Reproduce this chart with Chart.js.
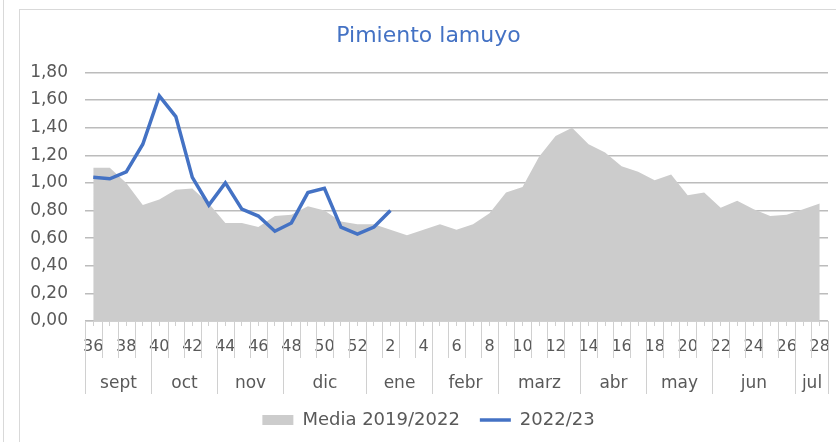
<!DOCTYPE html>
<html lang="es">
<head>
<meta charset="UTF-8">
<title>Pimiento lamuyo</title>
<script src="https://cdn.jsdelivr.net/npm/chart.js@4"></script>
<style>
  html, body { margin: 0; padding: 0; background: #fff; }
  #wrap { position: relative; width: 836px; height: 442px; overflow: hidden; }
  .edge { position: absolute; left: 3px; top: 0; height: 442px; border-left: 1px solid #d9d9d9; }
  .frame { position: absolute; left: 19px; top: 9px; width: 900px; height: 500px;
           border-left: 1px solid #d9d9d9; border-top: 1px solid #d9d9d9; }
  #chart { position: absolute; left: 0; top: 0; }
</style>
</head>
<body>
<div id="wrap">
  <div class="edge"></div>
  <div class="frame"></div>
  <canvas id="chart" width="836" height="442"></canvas>
</div>
<script>
// weeks of the campaign (sept -> jul)
const weeks = ['36','37','38','39','40','41','42','43','44','45','46','47','48','49','50','51','52',
  '1','2','3','4','5','6','7','8','9','10','11','12','13','14','15','16','17','18','19','20',
  '21','22','23','24','25','26','27','28'];
const months = ['sept','oct','nov','dic','ene','febr','marz','abr','may','jun','jul'];
const monthSpan = [4, 4, 4, 5, 4, 4, 5, 4, 4, 5, 2];

const media = [1.11,1.11,1.00,0.84,0.88,0.95,0.96,0.85,0.71,0.71,0.68,0.76,0.77,0.83,0.80,0.72,0.70,
  0.70,0.66,0.62,0.66,0.70,0.66,0.70,0.78,0.93,0.97,1.19,1.34,1.40,1.28,1.22,1.12,1.08,1.02,1.06,
  0.91,0.93,0.82,0.87,0.81,0.76,0.77,0.81,0.85];
const season = [1.04,1.03,1.08,1.28,1.63,1.48,1.04,0.84,1.00,0.81,0.76,0.65,0.71,0.93,0.96,0.68,0.63,0.68,0.80];

const yTickLabels = ['0,00','0,20','0,40','0,60','0,80','1,00','1,20','1,40','1,60','1,80'];

const FONT = "'Century Gothic', 'DejaVu Sans', sans-serif";
const TEXT = '#595959';
const AXIS = '#d0d0d0';

// second level of the category axis: separators and month names
const monthAxis = {
  id: 'monthAxis',
  afterDraw(chart) {
    const x = chart.scales.x;
    const ctx = chart.ctx;
    const step = x.getPixelForValue(1) - x.getPixelForValue(0);
    const edge = i => Math.round(x.getPixelForValue(i) - step / 2) + 0.5;
    const y0 = x.top;
    const vline = (px, len) => {
      ctx.beginPath();
      ctx.moveTo(px, y0);
      ctx.lineTo(px, y0 + len);
      ctx.stroke();
    };
    ctx.save();
    ctx.strokeStyle = AXIS;
    ctx.lineWidth = 1;
    for (let i = 0; i <= weeks.length; i++) vline(edge(i), 37);

    ctx.fillStyle = TEXT;
    ctx.font = '17px ' + FONT;
    ctx.textAlign = 'center';
    ctx.textBaseline = 'middle';
    let start = 0;
    months.forEach((m, j) => {
      const end = start + monthSpan[j];
      vline(edge(start), 73);
      ctx.fillText(m, (edge(start) + edge(end)) / 2, y0 + 63);
      start = end;
    });
    vline(edge(start), 73);
    ctx.restore();
  }
};

new Chart(document.getElementById('chart'), {
  type: 'line',
  data: {
    labels: weeks,
    datasets: [
      {
        label: 'Media 2019/2022',
        data: media,
        fill: 'origin',
        backgroundColor: '#cccccc',
        borderColor: '#cccccc',
        borderWidth: 0,
        pointRadius: 0,
        pointStyle: 'rect',
        pointBackgroundColor: '#cccccc',
        pointBorderWidth: 0,
        tension: 0,
        order: 1
      },
      {
        label: '2022/23',
        data: season,
        fill: false,
        borderColor: '#4472C4',
        backgroundColor: '#4472C4',
        borderWidth: 3.5,
        pointRadius: 0,
        pointStyle: 'line',
        pointBorderColor: '#4472C4',
        pointBorderWidth: 3.5,
        tension: 0,
        order: 0
      }
    ]
  },
  options: {
    responsive: false,
    animation: false,
    events: [],
    layout: { padding: { left: 29, right: 8, top: 0, bottom: 3 } },
    plugins: {
      title: {
        display: true,
        text: 'Pimiento lamuyo',
        color: '#4472C4',
        font: { family: FONT, size: 22, weight: 'normal' },
        padding: { top: 23, bottom: 23 }
      },
      legend: {
        position: 'bottom',
        labels: {
          usePointStyle: true,
          pointStyleWidth: 31,
          boxHeight: 10,
          color: TEXT,
          font: { family: FONT, size: 18 },
          padding: 20,
          sort: (a, b) => a.datasetIndex - b.datasetIndex
        }
      },
      tooltip: { enabled: false }
    },
    scales: {
      x: {
        offset: true,
        grid: { drawOnChartArea: false, offset: false, tickLength: 5, color: AXIS },
        border: { color: AXIS },
        ticks: {
          autoSkip: false,
          maxRotation: 0,
          color: TEXT,
          font: { family: FONT, size: 16 },
          padding: 11,
          callback: (v, i) => (i % 2 === 0 ? weeks[i] : '')
        },
        afterFit: s => { s.height = 70; s.paddingLeft = 0; s.paddingRight = 0; }
      },
      y: {
        min: 0,
        max: 1.8,
        ticks: {
          stepSize: 0.2,
          color: TEXT,
          font: { family: FONT, size: 17 },
          padding: 17,
          callback: (v, i) => yTickLabels[i]
        },
        grid: { color: '#bcbcbc', lineWidth: 1.5, drawTicks: false },
        border: { display: false },
        afterFit: s => { s.width = 56; }
      }
    }
  },
  plugins: [monthAxis]
});
</script>
</body>
</html>
